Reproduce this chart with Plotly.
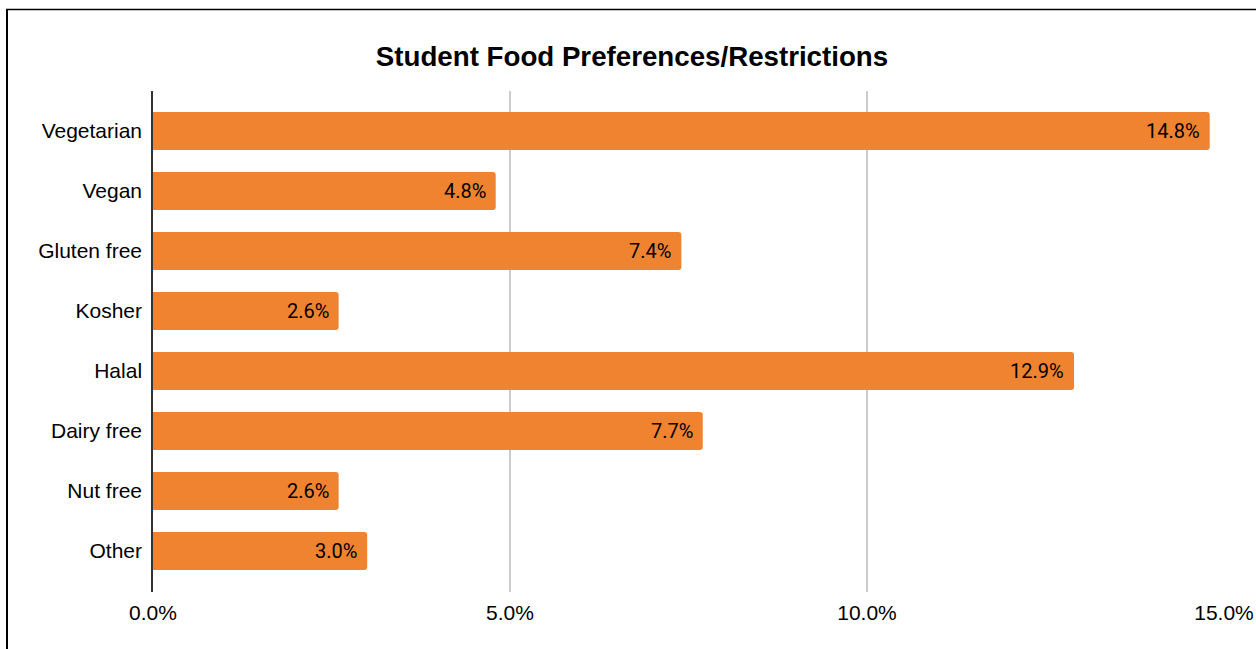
import plotly.graph_objects as go

# Survey results: share of students reporting each food preference/restriction (%)
categories = ["Vegetarian", "Vegan", "Gluten free", "Kosher", "Halal",
              "Dairy free", "Nut free", "Other"]
shares = [14.8, 4.8, 7.4, 2.6, 12.9, 7.7, 2.6, 3.0]
x_ticks = [0, 5, 10, 15]
x_tick_text = ["0.0%", "5.0%", "10.0%", "15.0%"]

W, H = 1256, 649
M_L, M_R, M_T, M_B = 153, 32, 91, 57
BAR_COLOR = "#F0832F"

fig = go.Figure(go.Bar(
    x=shares,
    y=categories,
    orientation="h",
    width=0.63,
    marker=dict(color=BAR_COLOR, line=dict(width=0), cornerradius=3),
    hoverinfo="x+y",
))

# value labels sitting inside the end of each bar
for cat, val in zip(categories, shares):
    fig.add_annotation(
        x=val, y=cat, text=f"{val:.1f}%", showarrow=False,
        xanchor="right", yanchor="middle", xshift=-8,
        font=dict(family="Roboto", size=20, color="#000000"),
    )

# frame lines along the left and top edges of the page
plot_w = W - M_L - M_R
plot_h = H - M_T - M_B
def px_x(px):
    return (px - M_L) / plot_w
def px_y(py):
    return (H - M_B - py) / plot_h

fig.add_shape(type="line", xref="paper", yref="paper",
              x0=px_x(7), x1=px_x(7), y0=px_y(9), y1=px_y(H + 5),
              line=dict(color="#000000", width=2))
fig.add_shape(type="line", xref="paper", yref="paper",
              x0=px_x(6), x1=px_x(W + 5), y0=px_y(9.5), y1=px_y(9.5),
              line=dict(color="#000000", width=1.5))

fig.update_layout(
    width=W, height=H,
    margin=dict(l=M_L, r=M_R, t=M_T, b=M_B, pad=0, autoexpand=False),
    paper_bgcolor="#FFFFFF",
    plot_bgcolor="#FFFFFF",
    showlegend=False,
    font=dict(family="Liberation Sans, Arial, sans-serif", size=21, color="#000000"),
    title=dict(
        text="<b>Student Food Preferences/Restrictions</b>",
        x=632 / W, xref="container", xanchor="center",
        y=1 - 56 / H, yref="container", yanchor="middle",
        font=dict(family="Liberation Sans, Arial, sans-serif", size=27.7, color="#000000"),
    ),
    xaxis=dict(
        range=[0, 15],
        tickvals=x_ticks, ticktext=x_tick_text,
        showgrid=True, gridcolor="#CCCCCC", gridwidth=1.5,
        zeroline=False, showline=False,
        ticks="", ticklabelstandoff=6,
        tickfont=dict(size=21),
        automargin=False,
        fixedrange=True,
    ),
    yaxis=dict(
        categoryorder="array", categoryarray=categories,
        range=[len(categories) - 1 + 0.683, -0.667],
        showgrid=False, zeroline=False,
        showline=True, linecolor="#333333", linewidth=1.5,
        ticks="", ticklabelstandoff=5,
        tickfont=dict(size=21),
        automargin=False,
        fixedrange=True,
    ),
    bargap=0.37,
)

fig.write_html("out.html")
